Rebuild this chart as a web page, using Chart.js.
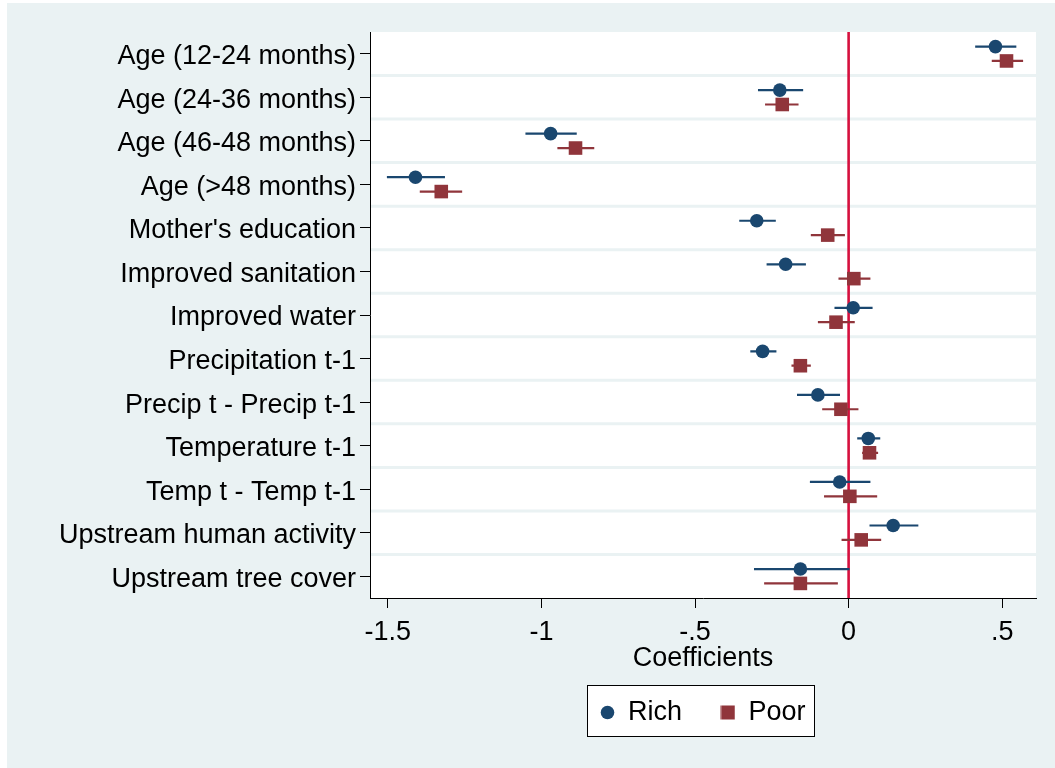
<!DOCTYPE html>
<html>
<head>
<meta charset="utf-8">
<script src="https://cdn.jsdelivr.net/npm/chart.js@4.4.1/dist/chart.umd.min.js"></script>
<style>
  body { margin: 0; background: #ffffff; }
  canvas { display: block; }
</style>
</head>
<body>
<canvas id="coefPlot" width="1055" height="768"></canvas>
<script>
// coefficient plot: rich vs poor households

const categories = [
  "Age (12-24 months)", "Age (24-36 months)", "Age (46-48 months)", "Age (>48 months)",
  "Mother's education", "Improved sanitation", "Improved water", "Precipitation t-1",
  "Precip t - Precip t-1", "Temperature t-1", "Temp t - Temp t-1",
  "Upstream human activity", "Upstream tree cover"
];

const richCoef = [0.478, -0.224, -0.970, -1.410, -0.299, -0.205, 0.015, -0.280, -0.100, 0.064, -0.029, 0.145, -0.157];
const richLow  = [0.412, -0.295, -1.052, -1.503, -0.356, -0.267, -0.046, -0.320, -0.168, 0.028, -0.126, 0.068, -0.308];
const richHigh = [0.546, -0.148, -0.885, -1.314, -0.237, -0.139, 0.078, -0.235, -0.028, 0.103, 0.071, 0.227, 0.003];

const poorCoef = [0.514, -0.216, -0.889, -1.326, -0.068, 0.017, -0.041, -0.157, -0.025, 0.068, 0.004, 0.041, -0.157];
const poorLow  = [0.466, -0.272, -0.948, -1.396, -0.123, -0.033, -0.100, -0.186, -0.086, 0.044, -0.080, -0.023, -0.275];
const poorHigh = [0.568, -0.163, -0.828, -1.258, -0.012, 0.071, 0.020, -0.123, 0.032, 0.096, 0.093, 0.106, -0.035];

const xTicks = [-1.5, -1, -0.5, 0, 0.5];
const seriesNames = ["Rich", "Poor"];

const RICH = "#1a476f";
const POOR = "#90353b";
const BG = "#eaf2f3";
const FONT = "'Liberation Sans', Arial, sans-serif";

// rows sit at 1..13, rich a bit above, poor a bit below
const shift = 0.165;

function pointsOf(coefs, dy) {
  return coefs.map((c, i) => ({ x: c, y: i + 1 + dy }));
}

function ciOf(lo, hi, dy) {
  const out = [];
  lo.forEach((l, i) => {
    out.push({ x: l, y: i + 1 + dy });
    out.push({ x: hi[i], y: i + 1 + dy });
    out.push({ x: null, y: null });
  });
  return out;
}

function markerImage(shape, color) {
  const c = document.createElement("canvas");
  c.width = 15; c.height = 15;
  const g = c.getContext("2d");
  g.fillStyle = color;
  if (shape === "circle") {
    g.beginPath();
    g.arc(7.5, 7.5, 6.8, 0, Math.PI * 2);
    g.fill();
  } else {
    g.fillRect(0.5, 0.5, 14, 14);
  }
  return c;
}
const legendMarks = [markerImage("circle", RICH), markerImage("rect", POOR)];

const backdrop = {
  id: "backdrop",
  beforeDraw(chart) {
    const { ctx, width, height, chartArea } = chart;
    ctx.save();
    ctx.fillStyle = "#ffffff";
    ctx.fillRect(0, 0, width, height);
    ctx.fillStyle = BG;
    ctx.fillRect(7, 3, width - 7, height - 3);
    ctx.fillStyle = "#ffffff";
    ctx.fillRect(chartArea.left, chartArea.top, chartArea.right - chartArea.left, chartArea.bottom - chartArea.top);

    // legend frame
    const boxes = chart.legend.legendHitBoxes;
    if (boxes && boxes.length) {
      const first = boxes[0], last = boxes[boxes.length - 1];
      const l = first.left - 13, r = last.left + last.width + 9;
      const t = first.top - 14, b = first.top + first.height + 10;
      ctx.fillStyle = "#ffffff";
      ctx.fillRect(l, t, r - l, b - t);
      ctx.strokeStyle = "#000000";
      ctx.lineWidth = 1;
      ctx.strokeRect(Math.round(l) + 0.5, Math.round(t) + 0.5, Math.round(r - l), Math.round(b - t));
    }
    ctx.restore();
  },
  beforeDatasetsDraw(chart) {
    const { ctx, chartArea, scales } = chart;
    ctx.save();
    // row separators
    ctx.strokeStyle = BG;
    ctx.lineWidth = 3;
    for (let i = 1; i < categories.length; i++) {
      const y = scales.y.getPixelForValue(i + 0.5);
      ctx.beginPath();
      ctx.moveTo(chartArea.left + 1, y);
      ctx.lineTo(chartArea.right, y);
      ctx.stroke();
    }
    // zero line
    const x0 = scales.x.getPixelForValue(0);
    ctx.strokeStyle = "#d6103e";
    ctx.lineWidth = 2.6;
    ctx.beginPath();
    ctx.moveTo(x0, chartArea.top);
    ctx.lineTo(x0, chartArea.bottom);
    ctx.stroke();
    ctx.restore();
  }
};

new Chart(document.getElementById("coefPlot"), {
  type: "scatter",
  data: {
    datasets: [
      {
        label: seriesNames[0],
        data: pointsOf(richCoef, -shift),
        pointStyle: "circle",
        pointRadius: 6.8,
        pointBackgroundColor: RICH,
        pointBorderWidth: 0,
        pointHoverRadius: 6.8
      },
      {
        label: seriesNames[1],
        data: pointsOf(poorCoef, shift),
        pointStyle: "rect",
        pointRadius: 9.6,
        pointBackgroundColor: POOR,
        pointBorderWidth: 0,
        pointHoverRadius: 9.6
      },
      {
        label: "Rich CI",
        data: ciOf(richLow, richHigh, -shift),
        showLine: true,
        spanGaps: false,
        borderColor: RICH,
        borderWidth: 2.2,
        pointRadius: 0
      },
      {
        label: "Poor CI",
        data: ciOf(poorLow, poorHigh, shift),
        showLine: true,
        spanGaps: false,
        borderColor: POOR,
        borderWidth: 2.2,
        pointRadius: 0
      }
    ]
  },
  options: {
    responsive: false,
    animation: false,
    devicePixelRatio: 1,
    layout: { padding: { top: 32, right: 19, bottom: 32, left: 0 } },
    scales: {
      x: {
        type: "linear",
        min: -1.558,
        max: 0.61,
        afterBuildTicks: (s) => { s.ticks = xTicks.map((v) => ({ value: v })); },
        afterFit: (s) => { s.height = 62; },
        ticks: {
          color: "#000",
          font: { family: FONT, size: 27 },
          padding: 8,
          maxRotation: 0,
          callback: (v) => {
            if (v === 0) return "0";
            const t = String(v);
            return t.replace(/^(-?)0\./, "$1.");
          }
        },
        grid: { drawOnChartArea: false, color: "#000", tickLength: 10, tickWidth: 1 },
        border: { color: "#000", width: 1 },
        title: {
          display: true,
          text: "Coefficients",
          color: "#000",
          font: { family: FONT, size: 27 },
          padding: { top: 0, bottom: -15 }
        }
      },
      y: {
        type: "linear",
        reverse: true,
        min: 0.5,
        max: categories.length + 0.5,
        afterBuildTicks: (s) => { s.ticks = categories.map((c, i) => ({ value: i + 1 })); },
        afterFit: (s) => { s.width = 370; },
        ticks: {
          color: "#000",
          font: { family: FONT, size: 27 },
          padding: 4,
          labelOffset: 3,
          callback: (v) => categories[v - 1]
        },
        grid: { drawOnChartArea: false, color: "#000", tickLength: 10, tickWidth: 1 },
        border: { color: "#000", width: 1 }
      }
    },
    plugins: {
      tooltip: { enabled: false },
      legend: {
        position: "bottom",
        fullSize: false,
        labels: {
          usePointStyle: true,
          boxWidth: 14,
          boxHeight: 14,
          padding: 39,
          color: "#000",
          font: { family: FONT, size: 27 },
          filter: (item) => item.datasetIndex < 2,
          generateLabels: (chart) => {
            const items = Chart.defaults.plugins.legend.labels.generateLabels(chart);
            items.forEach((it) => {
              if (it.datasetIndex < 2) it.pointStyle = legendMarks[it.datasetIndex];
            });
            return items;
          }
        }
      }
    }
  },
  plugins: [backdrop]
});
</script>
</body>
</html>
